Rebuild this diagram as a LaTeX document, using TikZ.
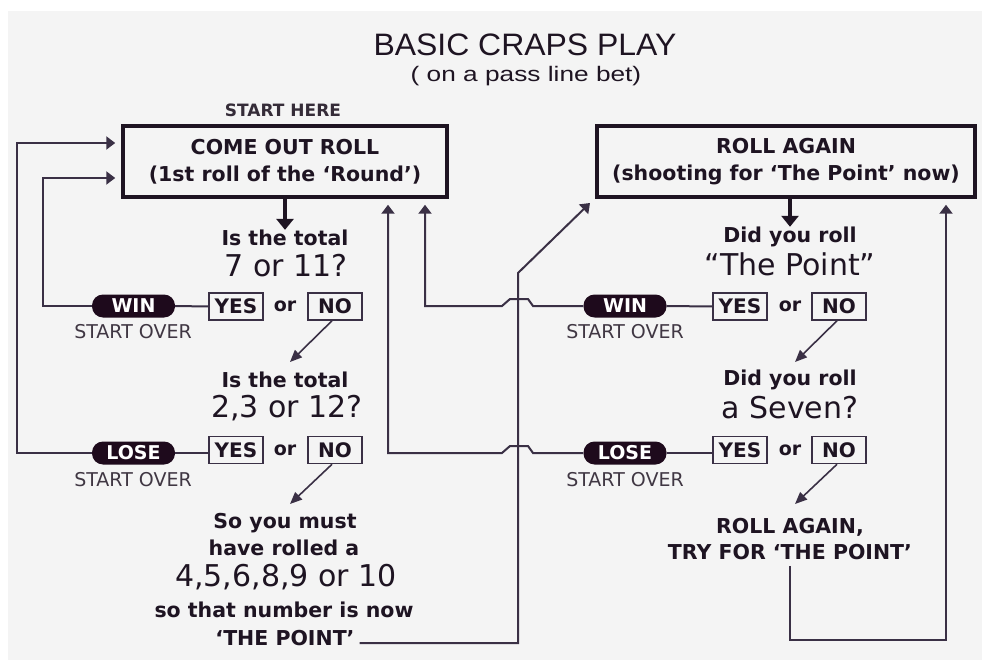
\documentclass[tikz,border=0pt]{standalone}
\usepackage{fontspec}
\usepackage{graphicx}
\setmainfont{DejaVu Sans}
\newfontfamily\lib{Liberation Sans}
\usetikzlibrary{arrows.meta}
\definecolor{ln}{HTML}{3A3045}
\definecolor{tc}{HTML}{1E1422}
\definecolor{pc}{HTML}{1E0A1C}
\definecolor{bg}{HTML}{F4F4F4}
\begin{document}
\begin{tikzpicture}[x=1pt,y=-1pt,
  bt/.style={font=\bfseries\fontsize{20.5}{24}\selectfont, text=tc, inner sep=0pt},
  big/.style={font=\fontsize{30}{34}\selectfont, text=tc, inner sep=0pt},
  pill/.style={fill=pc, rounded corners=11pt, minimum width=83pt, minimum height=23pt, text=white, font=\bfseries\fontsize{19}{20}\selectfont, inner sep=0pt},
  yn/.style={draw=ln, line width=1.5pt, minimum width=54pt, minimum height=27pt, inner sep=0pt, font=\bfseries\fontsize{20}{20}\selectfont, text=tc},
  ortext/.style={font=\bfseries\fontsize{19}{20}\selectfont, text=tc, inner sep=0pt},
  mainbox/.style={draw=tc, line width=3.5pt, inner sep=0pt, align=center, font=\bfseries\fontsize{20.5}{27}\selectfont, text=tc},
  so/.style={font=\fontsize{19}{19}\selectfont, text=tc!85, inner sep=0pt},
  conn/.style={draw=ln, line width=2pt},
  uparr/.style={conn, -{Triangle[width=13pt,length=9pt]}},
  bigarr/.style={draw=tc, line width=3.5pt, -{Triangle[width=17pt,length=11pt]}},
  diag/.style={draw=ln, line width=1.6pt, -{Triangle[width=10pt,length=12pt]}}
]
\useasboundingbox (0,0) rectangle (982,660);
\fill[white] (0,0) rectangle (982,660);
\fill[bg] (8,11) rectangle (982,660);

% titles
\node[text=tc, inner sep=0pt, font=\lib\fontsize{31}{33}\selectfont] (title) at (525,45) {\scalebox{1.03}[1]{BASIC CRAPS PLAY}};
\node[text=tc, inner sep=0pt, font=\lib\fontsize{21}{24}\selectfont] (sub) at (526,76) {\scalebox{1.25}[1]{( on a pass line bet)}};
\node[text=tc!90, inner sep=0pt, font=\bfseries\fontsize{17}{18}\selectfont] (start) at (283,110) {START HERE};

% main boxes
\node[mainbox, minimum width=324pt, minimum height=71pt] (box1) at (285,161.5) {COME OUT ROLL\\(1st roll of the ‘Round’)};
\node[mainbox, minimum width=378pt, minimum height=71pt] (box2) at (786,161.5) {ROLL AGAIN\\(shooting for ‘The Point’ now)};

% left column
\node[bt] (q1a) at (285,238) {Is the total};
\node[big] (q1b) at (286,266) {7 or 11?};
\node[pill] (win1) at (133.5,306) {WIN};
\node[yn] (yes1) at (236,306.5) {YES};
\node[ortext] (or1) at (285,306) {or};
\node[yn] (no1) at (335,306.5) {NO};
\node[so] (so1) at (133,332) {START OVER};
\node[bt] (q2a) at (285,380) {Is the total};
\node[big] (q2b) at (287,408) {2,3 or 12?};
\node[pill] (lose1) at (133.5,453) {LOSE};
\node[yn] (yes2) at (236,450) {YES};
\node[ortext] (or2) at (285,450) {or};
\node[yn] (no2) at (335,450) {NO};
\node[so] (so2) at (133,480) {START OVER};
\node[bt] (p1) at (285,523) {So you must};
\node[bt] (p2) at (284,548) {have rolled a};
\node[big] (p3) at (286,577) {4,5,6,8,9 or 10};
\node[bt] (p4) at (284,610) {so that number is now};
\node[bt] (p5) at (285,638) {‘THE POINT’};

% right column
\node[bt] (r1a) at (790,237) {Did you roll};
\node[big] (r1b) at (790,264) {“The Point”};
\node[pill] (win2) at (625,306) {WIN};
\node[yn] (yes3) at (740,306.5) {YES};
\node[ortext] (or3) at (790,306) {or};
\node[yn] (no3) at (839,306.5) {NO};
\node[so] (so3) at (625,332) {START OVER};
\node[bt] (r2a) at (790,380) {Did you roll};
\node[big] (r2b) at (790,408) {a Seven?};
\node[pill] (lose2) at (625,453) {LOSE};
\node[yn] (yes4) at (740,450) {YES};
\node[ortext] (or4) at (790,450) {or};
\node[yn] (no4) at (839,450) {NO};
\node[so] (so4) at (625,480) {START OVER};
\node[bt] (r3a) at (790,527) {ROLL AGAIN,};
\node[bt] (r3b) at (790,552) {TRY FOR ‘THE POINT’};

% coordinates
\coordinate (t1) at (290,362);
\coordinate (t2) at (290,504);
\coordinate (t3) at (795,362);
\coordinate (t4) at (795,504);
\coordinate (pb) at (518,643);
\coordinate (pc) at (518,273);
\coordinate (pt) at (590,203);

% thick down arrows
\draw[bigarr] (box1.south) -- (q1a.north);
\draw[bigarr] (box2.south -| r1a.north) -- (r1a.north);

% pill to yes
\draw[conn] (win1.east) -- (yes1.west);
\draw[conn] (lose1.east) -- (lose1.east -| yes2.west);
\draw[conn] (win2.east) -- (yes3.west);
\draw[conn] (lose2.east) -- (lose2.east -| yes4.west);

% no arrows
\draw[diag] ([xshift=-3pt]no1.south) -- (t1);
\draw[diag] ([xshift=-3pt]no2.south) -- (t2);
\draw[diag] ([xshift=-2pt]no3.south) -- (t3);
\draw[diag] ([xshift=-2pt]no4.south) -- (t4);

% left loops
\draw[uparr, shorten >=6pt] (win1.west) -- (43,306) -- (43,178) -- (box1.west |- 0,178);
\draw[uparr, shorten >=6pt] (lose1.west) -- (17,453) -- (17,143) -- (box1.west |- 0,143);

% right loops back to come out roll
\draw[uparr, shorten >=6pt] (win2.west) -- (533,306) -- (528,299) -- (510,299) -- (502,306) -- (425,306) -- (box1.south -| 425,0);
\draw[uparr, shorten >=6pt] (lose2.west) -- (533,453) -- (528,446) -- (510,446) -- (502,453) -- (388,453) -- (box1.south -| 388,0);

% the point to roll again
\draw[uparr] ([xshift=5pt]p5.east |- pb) -- (pb) -- (pc) -- (pt);

% roll again loop
\draw[uparr, shorten >=6pt] ([yshift=-6pt]r3b.south) -- (790,640) -- (946,640) -- (box2.south -| 946,0);
\end{tikzpicture}
\end{document}
